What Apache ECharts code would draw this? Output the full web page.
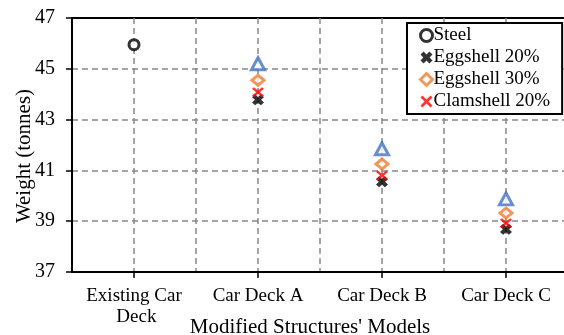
<!DOCTYPE html>
<html><head><meta charset="utf-8">
<script src="https://cdn.jsdelivr.net/npm/echarts@6/dist/echarts.min.js"></script>
<style>html,body{margin:0;padding:0;background:#fff}#c{width:564px;height:335px}</style>
</head><body><div id="c"></div>
<script>
var categories = ["Existing Car Deck", "Car Deck A", "Car Deck B", "Car Deck C"];
var legendNames = ['Steel', 'Eggshell 20%', 'Eggshell 30%', 'Clamshell 20%'];
var steel = [[0, 45.95]];
var eggshell20 = [[1, 43.78], [2, 40.55], [3, 38.68]];
var eggshell30 = [[1, 44.55], [2, 41.25], [3, 39.32]];
var clamshell20 = [[1, 44.08], [2, 40.8], [3, 38.92]];
var other = [[1, 45.2], [2, 41.85], [3, 39.88]];
var yTicks = [37, 39, 41, 43, 45, 47];

var F = "'Liberation Serif', 'Times New Roman', serif";
var heavyX = 'path://M0,2.6 L2.6,0 L5,2.4 L7.4,0 L10,2.6 L7.6,5 L10,7.4 L7.4,10 L5,7.6 L2.6,10 L0,7.4 L2.4,5 Z';
var thinX = 'path://M0,1.6 L1.6,0 L5,3.4 L8.4,0 L10,1.6 L6.6,5 L10,8.4 L8.4,10 L5,6.6 L1.6,10 L0,8.4 L3.4,5 Z';
var gridLine = {show: true, showMinLine: false, showMaxLine: false, lineStyle: {color: '#888', type: [6, 4], width: 1.5}};

var chart = echarts.init(document.getElementById('c'));
chart.setOption({
  animation: false,
  textStyle: {fontFamily: F},
  grid: {left: 72, top: 18, width: 496, height: 254, outerBoundsMode: 'none', containLabel: false,
    show: true, borderColor: '#000', borderWidth: 2},
  xAxis: [{
    type: 'value', min: -0.5, max: 3.5, interval: 0.5,
    axisLine: {show: true, onZero: false, lineStyle: {color: '#000', width: 2}},
    axisTick: {show: true, customValues: [0, 1, 2, 3], length: 6, lineStyle: {color: '#000', width: 1.5}},
    axisLabel: {customValues: [0, 1, 2, 3], formatter: function (v) { return categories[Math.round(v)]; },
      color: '#000', fontFamily: F, fontSize: 19, width: 100, overflow: 'break', lineHeight: 21, margin: 14},
    splitLine: {show: false},
    name: "Modified Structures' Models", nameLocation: 'middle', nameGap: 45, nameMoveOverlap: false,
    nameTextStyle: {color: '#000', fontFamily: F, fontSize: 21, padding: [0, 20, 0, 0]}
  }, {
    type: 'value', position: 'bottom', min: -0.5, max: 3.5, interval: 0.5,
    axisLine: {show: false}, axisTick: {show: false}, axisLabel: {show: false},
    splitLine: gridLine
  }],
  yAxis: {
    type: 'value', min: yTicks[0], max: yTicks[yTicks.length - 1], interval: 2,
    axisLine: {show: true, onZero: false, lineStyle: {color: '#000', width: 2}},
    axisTick: {show: true, length: 6, lineStyle: {color: '#000', width: 1.5}},
    axisLabel: {color: '#000', fontFamily: F, fontSize: 20, margin: 17},
    splitLine: gridLine,
    name: 'Weight (tonnes)', nameLocation: 'middle', nameGap: 37, nameMoveOverlap: false,
    nameTextStyle: {color: '#000', fontFamily: F, fontSize: 21, padding: [0, 22, 0, 0]}
  },
  legend: {
    orient: 'vertical', left: 407, top: 23,
    data: [
      {name: legendNames[0], itemStyle: {borderWidth: 3}},
      {name: legendNames[1]},
      {name: legendNames[2], itemStyle: {borderWidth: 3}},
      {name: legendNames[3]}
    ],
    backgroundColor: '#fff', borderColor: '#000', borderWidth: 2,
    padding: [3, 12, 3, 12], itemGap: 3, itemWidth: 12, itemHeight: 12,
    textStyle: {color: '#000', fontFamily: F, fontSize: 19, padding: [0, 0, 0, -4]}
  },
  series: [
    {name: 'Other', type: 'scatter', data: other, symbol: 'triangle', symbolSize: [13, 12],
      itemStyle: {color: '#fff', borderColor: '#4472C4', borderWidth: 3}, z: 2},
    {name: legendNames[0], type: 'scatter', data: steel, symbol: 'circle', symbolSize: 10,
      itemStyle: {color: '#fff', borderColor: '#000', borderWidth: 3}, z: 3},
    {name: legendNames[1], type: 'scatter', data: eggshell20, symbol: heavyX, symbolSize: [12, 11],
      itemStyle: {color: '#000'}, z: 3},
    {name: legendNames[2], type: 'scatter', data: eggshell30, symbol: 'diamond', symbolSize: [12, 10],
      itemStyle: {color: '#fff', borderColor: '#ED7D31', borderWidth: 3}, z: 4},
    {name: legendNames[3], type: 'scatter', data: clamshell20, symbol: thinX, symbolSize: [12, 10],
      itemStyle: {color: '#FF0000'}, z: 5}
  ]
});
</script></body></html>
